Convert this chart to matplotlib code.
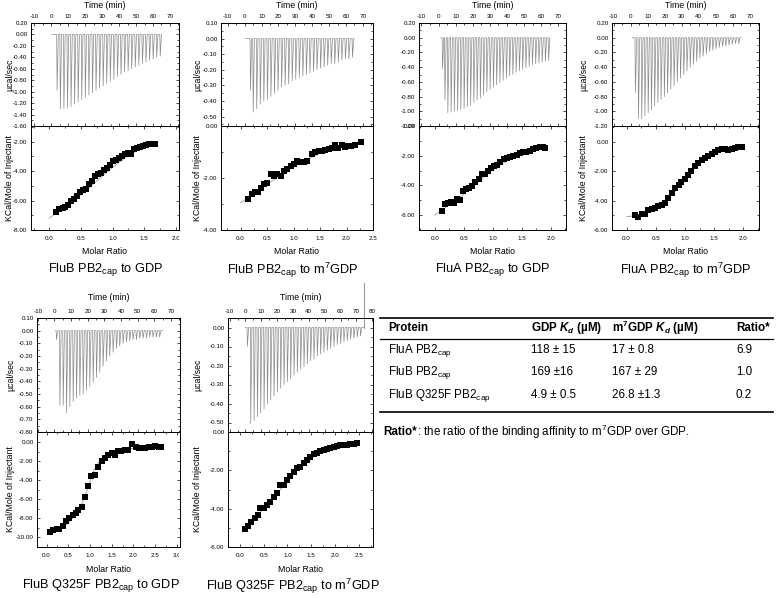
import numpy as np
import matplotlib
matplotlib.use("Agg")
import matplotlib.pyplot as plt
from matplotlib.ticker import MultipleLocator, AutoMinorLocator, FormatStrFormatter
from matplotlib.transforms import Bbox, TransformedBbox
from matplotlib.lines import Line2D

plt.rcParams['font.family'] = ['Liberation Sans', 'DejaVu Sans']
plt.rcParams['mathtext.fontset'] = 'custom'
plt.rcParams['mathtext.rm'] = 'Liberation Sans'
plt.rcParams['mathtext.it'] = 'Liberation Sans:italic'
plt.rcParams['mathtext.bf'] = 'Liberation Sans:bold'
plt.rcParams['mathtext.bfit'] = 'Liberation Sans:bold:italic'

W, H = 778, 598

# ---------------- dados ----------------
# painel 1: FluB PB2cap -> GDP
p1_inj_t = [3.3, 5.2, 7.3, 9.4, 11.5, 13.6, 15.7, 17.8, 19.9, 22.0, 24.1, 26.2, 28.3, 30.4, 32.5,
            34.6, 36.7, 38.8, 40.9, 43.0, 45.1, 47.2, 49.3, 51.4, 53.5, 55.6, 57.7, 59.8, 61.9, 64.0]
p1_inj_peak = [-0.98, -1.30, -1.29, -1.28, -1.26, -1.22, -1.18, -1.14, -1.10, -1.06, -1.02, -0.98, -0.94,
               -0.90, -0.86, -0.82, -0.78, -0.74, -0.70, -0.66, -0.63, -0.60, -0.57, -0.54, -0.51, -0.48,
               -0.45, -0.43, -0.40, -0.38]
p1_base = [0.4, 65.0]
p1_ratio = [0.105, 0.16, 0.21, 0.25, 0.30, 0.34, 0.39, 0.44, 0.48, 0.53, 0.58, 0.63, 0.67, 0.72, 0.77, 0.82,
            0.86, 0.91, 0.96, 1.00, 1.05, 1.10, 1.15, 1.19, 1.24, 1.29, 1.34, 1.38, 1.43, 1.48, 1.53, 1.57,
            1.62, 1.67]
p1_dh = [-6.77, -6.60, -6.50, -6.43, -6.30, -6.05, -5.90, -5.66, -5.40, -5.25, -5.18, -4.90, -4.64, -4.32,
         -4.22, -4.10, -3.93, -3.77, -3.60, -3.34, -3.25, -3.10, -2.98, -2.82, -2.75, -2.80, -2.50, -2.43,
         -2.34, -2.27, -2.20, -2.18, -2.16, -2.18]
p1_fit_x = [0.0, 0.1, 0.3, 0.5, 0.7, 0.9, 1.1, 1.3, 1.5, 1.67]
p1_fit_y = [-7.20, -6.85, -6.30, -5.60, -4.85, -4.10, -3.40, -2.80, -2.35, -2.10]

# painel 2: FluB PB2cap -> m7GDP
p2_inj_t = [3.2, 4.8, 6.9, 9.0, 11.1, 13.2, 15.3, 17.4, 19.5, 21.6, 23.7, 25.8, 27.9, 30.0, 32.1, 34.2,
            36.3, 38.4, 40.5, 42.6, 44.7, 46.8, 48.9, 51.0, 53.1, 55.2, 57.3, 59.4, 61.5, 63.6]
p2_inj_peak = [-0.33, -0.47, -0.45, -0.42, -0.40, -0.39, -0.37, -0.35, -0.33, -0.31, -0.30, -0.29, -0.27,
               -0.26, -0.25, -0.24, -0.23, -0.22, -0.21, -0.20, -0.19, -0.18, -0.17, -0.16, -0.16, -0.15,
               -0.14, -0.13, -0.13, -0.12]
p2_base = [0.6, 65.0]
p2_ratio = [0.145, 0.21, 0.27, 0.33, 0.38, 0.44, 0.50, 0.57, 0.63, 0.69, 0.76, 0.82, 0.88, 0.95, 1.01, 1.07,
            1.13, 1.20, 1.26, 1.35, 1.41, 1.48, 1.54, 1.60, 1.67, 1.73, 1.78, 1.84, 1.91, 1.97, 2.03, 2.09,
            2.16, 2.27]
p2_dh = [-2.80, -2.61, -2.53, -2.55, -2.39, -2.23, -2.19, -1.86, -1.94, -1.85, -1.92, -1.73, -1.64, -1.55,
         -1.45, -1.34, -1.39, -1.37, -1.34, -1.08, -0.99, -0.97, -0.95, -0.92, -0.88, -0.83, -0.72, -0.83,
         -0.72, -0.80, -0.75, -0.75, -0.72, -0.62]
p2_fit_x = [0.0, 0.15, 0.5, 1.0, 1.5, 2.0, 2.3]
p2_fit_y = [-2.95, -2.75, -2.25, -1.55, -1.05, -0.75, -0.62]

# painel 3: FluA PB2cap -> GDP
p3_inj_t = [2.1, 3.5, 5.2, 7.1, 9.0, 10.9, 12.8, 14.7, 16.6, 18.5, 20.4, 22.3, 24.2, 26.1, 28.0, 29.9, 31.8,
            33.7, 35.6, 37.5, 39.4, 41.3, 43.2, 45.1, 47.0, 48.9, 50.8, 52.7, 54.6, 56.5, 58.4, 60.3, 62.2,
            64.1]
p3_inj_peak = [-0.42, -0.85, -1.02, -1.01, -1.00, -0.99, -0.98, -0.96, -0.94, -0.92, -0.88, -0.85, -0.82,
               -0.78, -0.74, -0.70, -0.67, -0.64, -0.61, -0.58, -0.55, -0.52, -0.50, -0.47, -0.45, -0.43,
               -0.41, -0.39, -0.37, -0.35, -0.34, -0.33, -0.32, -0.31]
p3_base = [1.5, 65.0]
p3_ratio = [0.126, 0.18, 0.23, 0.28, 0.33, 0.385, 0.44, 0.49, 0.54, 0.59, 0.65, 0.70, 0.76, 0.81, 0.86, 0.91,
            0.97, 1.02, 1.07, 1.13, 1.19, 1.24, 1.29, 1.35, 1.41, 1.47, 1.52, 1.58, 1.64, 1.70, 1.75, 1.81,
            1.86, 1.90]
p3_dh = [-5.73, -5.26, -5.21, -5.12, -5.21, -4.92, -5.01, -4.40, -4.25, -4.16, -4.04, -3.80, -3.57, -3.26,
         -3.21, -3.06, -2.85, -2.67, -2.61, -2.43, -2.22, -2.18, -2.11, -2.02, -1.93, -1.80, -1.75, -1.75,
         -1.69, -1.57, -1.51, -1.44, -1.39, -1.46]
p3_fit_x = [0.0, 0.12, 0.4, 0.7, 1.0, 1.3, 1.6, 1.9]
p3_fit_y = [-6.00, -5.65, -4.90, -3.95, -2.95, -2.20, -1.70, -1.40]

# painel 4: FluA PB2cap -> m7GDP
p4_inj_t = [2.5, 4.3, 6.2, 8.1, 10.0, 11.9, 13.8, 15.7, 17.6, 19.5, 21.4, 23.3, 25.2, 27.1, 29.0, 30.9, 32.8,
            34.7, 36.6, 38.5, 40.4, 42.3, 44.2, 46.1, 48.0, 49.9, 51.8, 53.7, 55.6, 57.5, 59.4, 61.3, 63.2]
p4_inj_peak = [-0.75, -1.10, -1.10, -1.06, -1.02, -0.98, -0.93, -0.88, -0.84, -0.80, -0.75, -0.70, -0.65,
               -0.60, -0.55, -0.50, -0.45, -0.40, -0.36, -0.32, -0.28, -0.25, -0.22, -0.19, -0.17, -0.15,
               -0.13, -0.12, -0.11, -0.10, -0.09, -0.08, -0.08]
p4_base = [1.0, 65.0]
p4_ratio = [0.14, 0.20, 0.26, 0.31, 0.37, 0.43, 0.49, 0.54, 0.60, 0.66, 0.71, 0.77, 0.83, 0.89, 0.94, 1.00,
            1.06, 1.11, 1.17, 1.23, 1.29, 1.34, 1.40, 1.46, 1.51, 1.57, 1.63, 1.69, 1.74, 1.80, 1.86, 1.91,
            1.98]
p4_dh = [-4.95, -5.11, -4.89, -4.93, -4.66, -4.55, -4.50, -4.36, -4.30, -4.14, -3.80, -3.48, -3.14, -2.95,
         -2.73, -2.55, -2.27, -1.98, -1.66, -1.43, -1.25, -1.09, -0.95, -0.84, -0.68, -0.57, -0.50, -0.52,
         -0.57, -0.48, -0.41, -0.39, -0.34]
p4_fit_x = [0.0, 0.2, 0.5, 0.7, 0.9, 1.1, 1.3, 1.5, 1.7, 2.0]
p4_fit_y = [-5.10, -5.00, -4.55, -3.95, -3.05, -2.05, -1.30, -0.85, -0.60, -0.40]

# painel 5: FluB Q325F PB2cap -> GDP
p5_inj_t = [1.0, 3.0, 5.0, 7.0, 9.0, 11.0, 13.0, 15.0, 17.0, 19.0, 21.0, 23.0, 25.0, 27.0, 29.0, 31.0, 33.0,
            35.0, 37.0, 39.0, 41.0, 43.0, 45.0, 47.0, 49.0, 51.0, 53.0, 55.0, 57.0, 59.0, 61.0, 63.0]
p5_inj_peak = [-0.07, -0.59, -0.59, -0.65, -0.60, -0.56, -0.53, -0.51, -0.50, -0.47, -0.44, -0.41, -0.37,
               -0.33, -0.28, -0.24, -0.20, -0.17, -0.14, -0.12, -0.10, -0.09, -0.08, -0.07, -0.07, -0.06,
               -0.06, -0.06, -0.05, -0.05, -0.05, -0.05]
p5_base = [0.5, 65.0]
p5_ratio = [0.08, 0.15, 0.23, 0.29, 0.37, 0.44, 0.52, 0.60, 0.67, 0.73, 0.81, 0.89, 0.95, 1.02, 1.11, 1.19,
            1.27, 1.34, 1.42, 1.50, 1.57, 1.65, 1.72, 1.80, 1.88, 1.97, 2.05, 2.12, 2.20, 2.27, 2.35, 2.43,
            2.50, 2.58, 2.64]
p5_dh = [-9.41, -9.23, -9.16, -9.16, -8.78, -8.29, -7.94, -7.67, -7.46, -7.14, -6.76, -5.71, -4.63, -3.55,
         -3.48, -2.58, -2.02, -1.64, -1.32, -1.11, -1.32, -0.91, -0.91, -0.87, -0.80, -0.21, -0.49, -0.63,
         -0.59, -0.59, -0.52, -0.52, -0.45, -0.49, -0.49]
p5_fit_x = [0.08, 0.3, 0.5, 0.7, 0.8, 0.9, 1.0, 1.1, 1.2, 1.3, 1.5, 1.8, 2.2, 2.65]
p5_fit_y = [-9.45, -9.20, -8.50, -7.40, -6.60, -5.50, -4.10, -2.90, -2.10, -1.60, -1.10, -0.75, -0.55, -0.48]

# painel 6: FluB Q325F PB2cap -> m7GDP
p6_inj_t = [1.0, 3.1, 5.2, 7.3, 9.4, 11.5, 13.6, 15.7, 17.8, 19.9, 22.0, 24.1, 26.2, 28.3, 30.4, 32.5, 34.6,
            36.7, 38.8, 40.9, 43.0, 45.1, 47.2, 49.3, 51.4, 53.5, 55.6, 57.7, 59.8, 61.9, 64.0, 66.1, 68.2,
            70.3, 72.4]
p6_inj_peak = [-0.10, -0.505, -0.49, -0.47, -0.45, -0.43, -0.40, -0.38, -0.36, -0.34, -0.32, -0.30, -0.285,
               -0.27, -0.25, -0.235, -0.22, -0.205, -0.19, -0.175, -0.165, -0.15, -0.14, -0.13, -0.12, -0.11,
               -0.10, -0.09, -0.085, -0.075, -0.07, -0.06, -0.055, -0.05, -0.045]
p6_base = [0.0, 74.6]
p6_end_jump = 0.233   # traço sobe para fora do gráfico no fim
p6_ratio = [0.10, 0.17, 0.24, 0.31, 0.38, 0.43, 0.50, 0.57, 0.64, 0.71, 0.78, 0.85, 0.92, 0.99, 1.06, 1.13,
            1.20, 1.27, 1.34, 1.41, 1.48, 1.55, 1.62, 1.69, 1.76, 1.83, 1.90, 1.97, 2.04, 2.11, 2.18, 2.25,
            2.32, 2.39, 2.46]
p6_dh = [-5.05, -4.91, -4.68, -4.49, -4.35, -3.98, -3.98, -3.81, -3.63, -3.41, -3.20, -2.78, -2.76, -2.53,
         -2.32, -2.10, -1.89, -1.80, -1.62, -1.45, -1.28, -1.17, -1.07, -1.00, -0.93, -0.89, -0.84, -0.79,
         -0.75, -0.70, -0.68, -0.66, -0.65, -0.61, -0.59]
p6_fit_x = [0.08, 0.3, 0.6, 0.9, 1.2, 1.5, 1.8, 2.1, 2.45]
p6_fit_y = [-5.05, -4.50, -3.75, -2.85, -2.00, -1.35, -0.95, -0.75, -0.60]

captions = ["FluB PB2$_{\\mathregular{cap}}$ to GDP",
            "FluB PB2$_{\\mathregular{cap}}$ to m$^{\\mathregular{7}}$GDP",
            "FluA PB2$_{\\mathregular{cap}}$ to GDP",
            "FluA PB2$_{\\mathregular{cap}}$ to m$^{\\mathregular{7}}$GDP",
            "FluB Q325F PB2$_{\\mathregular{cap}}$ to GDP",
            "FluB Q325F PB2$_{\\mathregular{cap}}$ to m$^{\\mathregular{7}}$GDP"]

# tabela
tab_header = ["Protein", "GDP $\\mathbfit{K}_{\\mathbfit{d}}$ (µM)",
              "m$^{\\mathbf{7}}$GDP $\\mathbfit{K}_{\\mathbfit{d}}$ (µM)", "Ratio*"]
tab_protein = ["FluA PB2$_{\\mathregular{cap}}$", "FluB PB2$_{\\mathregular{cap}}$",
               "FluB Q325F PB2$_{\\mathregular{cap}}$"]
tab_gdp = ["118 ± 15", "169 ±16", "4.9 ± 0.5"]
tab_m7gdp = ["17 ± 0.8", "167 ± 29", "26.8 ±1.3"]
tab_ratio = ["6.9", "1.0", "0.2"]
# -------------------------------------------------------

fig = plt.figure(figsize=(W / 100, H / 100), dpi=100)


def fx(px):
    return px / W


def fy(py):
    return 1 - py / H


def style_axes(ax, top_panel):
    for s in ax.spines.values():
        s.set_linewidth(0.7)
    ax.tick_params(which='both', direction='in', top=True, bottom=True, left=True, right=True,
                   width=0.5, labelsize=4.5, pad=2.5)
    ax.tick_params(which='major', length=2.2)
    ax.tick_params(which='minor', length=1.2)
    if top_panel:
        ax.tick_params(axis='x', labeltop=True, labelbottom=False, pad=3)
    else:
        ax.tick_params(axis='x', pad=4)


def draw_panel(box, t_lim, t_step, top_ylim, top_step, r_lim, bot_ylim, inj_t, inj_peak, base,
               ratio, dh, fit_x, fit_y, ylab_x, lab_rows, caption, cap_xy, end_jump=None, clip_x=None):
    left, right, top, mid, bottom = box
    ax_t = fig.add_axes([fx(left), fy(mid), fx(right - left), (mid - top) / H])
    ax_b = fig.add_axes([fx(left), fy(bottom), fx(right - left), (bottom - mid) / H])

    # termograma: cada injecao vira um pico fino
    xs = [base[0]]
    ys = [0.0]
    for t, p in zip(inj_t, inj_peak):
        xs += [t, t + 0.25, t + 1.0]
        ys += [0.0, p, 0.0]
    xs.append(base[1])
    ys.append(0.0)
    ax_t.plot(xs, ys, color='#8a8a8a', lw=0.5)
    if end_jump is not None:
        ax_t.plot([base[1], base[1]], [0.0, end_jump], color='#9a9a9a', lw=0.8, clip_on=False)
    ax_t.set_xlim(*t_lim)
    ax_t.set_ylim(*top_ylim)
    ax_t.xaxis.set_major_locator(MultipleLocator(t_step))
    ax_t.xaxis.set_minor_locator(AutoMinorLocator(2))
    ax_t.yaxis.set_major_locator(MultipleLocator(top_step))
    ax_t.yaxis.set_minor_locator(AutoMinorLocator(2))
    ax_t.xaxis.set_major_formatter(FormatStrFormatter('%d'))
    ax_t.yaxis.set_major_formatter(FormatStrFormatter('%.2f'))
    style_axes(ax_t, True)

    # isoterma
    ax_b.plot(fit_x, fit_y, color='#9a9a9a', lw=0.6)
    ax_b.plot(ratio, dh, 's', color='black', ms=3.8, mew=0)
    ax_b.set_xlim(*r_lim)
    ax_b.set_ylim(*bot_ylim)
    ax_b.xaxis.set_major_locator(MultipleLocator(0.5))
    ax_b.xaxis.set_minor_locator(AutoMinorLocator(2))
    ax_b.yaxis.set_major_locator(MultipleLocator(2))
    ax_b.yaxis.set_minor_locator(AutoMinorLocator(2))
    ax_b.xaxis.set_major_formatter(FormatStrFormatter('%.1f'))
    ax_b.yaxis.set_major_formatter(FormatStrFormatter('%.2f'))
    style_axes(ax_b, False)

    xc = (left + right) / 2
    time_y, molar_y = lab_rows
    fig.text(fx(xc), fy(time_y), "Time (min)", ha='center', va='center', fontsize=6.3)
    fig.text(fx(xc), fy(molar_y), "Molar Ratio", ha='center', va='center', fontsize=6.3)
    if ylab_x is not None:
        fig.text(fx(ylab_x), fy((top + mid) / 2), "µcal/sec", rotation=90, ha='center', va='center',
                 fontsize=6.3)
        fig.text(fx(ylab_x), fy((mid + bottom) / 2), "KCal/Mole of Injectant", rotation=90,
                 ha='center', va='center', fontsize=6.3)
    fig.text(fx(cap_xy[0]), fy(cap_xy[1]), caption, ha='center', va='center', fontsize=9.2)

    if clip_x is not None:
        cb = TransformedBbox(Bbox.from_extents(0, 0, fx(clip_x), 1), fig.transFigure)
        for lab in ax_b.get_xticklabels():
            lab.set_clip_box(cb)
            lab.set_clip_on(True)
    return ax_t, ax_b


draw_panel((31, 179, 23, 126, 230), (-11.8, 75.3), 10, (-1.6, 0.2), 0.2, (-0.29, 2.05), (-8.0, -0.93),
           p1_inj_t, p1_inj_peak, p1_base, p1_ratio, p1_dh, p1_fit_x, p1_fit_y,
           10, (5, 251), captions[0], (106, 270), clip_x=179)
draw_panel((221, 373, 23, 126, 230), (-14.0, 76.0), 10, (-0.56, 0.10), 0.1, (-0.37, 2.5), (-4.0, 0.0),
           p2_inj_t, p2_inj_peak, p2_base, p2_ratio, p2_dh, p2_fit_x, p2_fit_y,
           198, (5, 251), captions[1], (293, 270))
draw_panel((419, 566, 23, 126, 230), (-11.4, 74.5), 10, (-1.2, 0.2), 0.2, (-0.27, 2.26), (-7.0, 0.0),
           p3_inj_t, p3_inj_peak, p3_base, p3_ratio, p3_dh, p3_fit_x, p3_fit_y,
           None, (5, 251), captions[2], (493, 270))
draw_panel((612, 759, 23, 126, 230), (-11.0, 75.4), 10, (-1.2, 0.2), 0.2, (-0.25, 2.27), (-6.0, 1.07),
           p4_inj_t, p4_inj_peak, p4_base, p4_ratio, p4_dh, p4_fit_x, p4_fit_y,
           584, (5, 251), captions[3], (686, 270))
draw_panel((37, 180, 318, 432, 547), (-10.5, 75.5), 10, (-0.8, 0.1), 0.1, (-0.22, 3.07), (-11.0, 1.05),
           p5_inj_t, p5_inj_peak, p5_base, p5_ratio, p5_dh, p5_fit_x, p5_fit_y,
           11, (297, 569), captions[4], (101, 586), clip_x=179)
draw_panel((228, 373, 318, 432, 547), (-11.0, 80.5), 10, (-0.55, 0.05), 0.1, (-0.25, 2.8), (-6.0, 0.0),
           p6_inj_t, p6_inj_peak, p6_base, p6_ratio, p6_dh, p6_fit_x, p6_fit_y,
           198, (297, 569), captions[5], (293, 586), end_jump=p6_end_jump)

# ---------------- tabela ----------------
col_x = [388, 531, 612, 736]
row_y = [350, 372, 395]
tab_fs = 8.4
for cx, txt in zip(col_x, tab_header):
    fig.text(fx(cx), fy(328), txt, ha='left', va='center', fontsize=tab_fs, fontweight='bold')
for i, ry in enumerate(row_y):
    for cx, txt in zip(col_x, [tab_protein[i], tab_gdp[i], tab_m7gdp[i], tab_ratio[i]]):
        fig.text(fx(cx), fy(ry), txt, ha='left', va='center', fontsize=tab_fs)

for ly, lw in [(318, 1.2), (339, 0.9), (412, 1.2)]:
    fig.add_artist(Line2D([fx(380), fx(773)], [fy(ly), fy(ly)], color='black', lw=lw,
                          transform=fig.transFigure))

t1 = fig.text(fx(383), fy(432), "Ratio*", ha='left', va='center', fontsize=tab_fs, fontweight='bold')
rend = fig.canvas.get_renderer()
bb = t1.get_window_extent(renderer=rend)
fig.text(bb.x1 / fig.dpi / fig.get_figwidth(), fy(432),
         ": the ratio of the binding affinity to m$^{\\mathregular{7}}$GDP over GDP.",
         ha='left', va='center', fontsize=tab_fs)

fig.savefig("out.png", dpi=100)
